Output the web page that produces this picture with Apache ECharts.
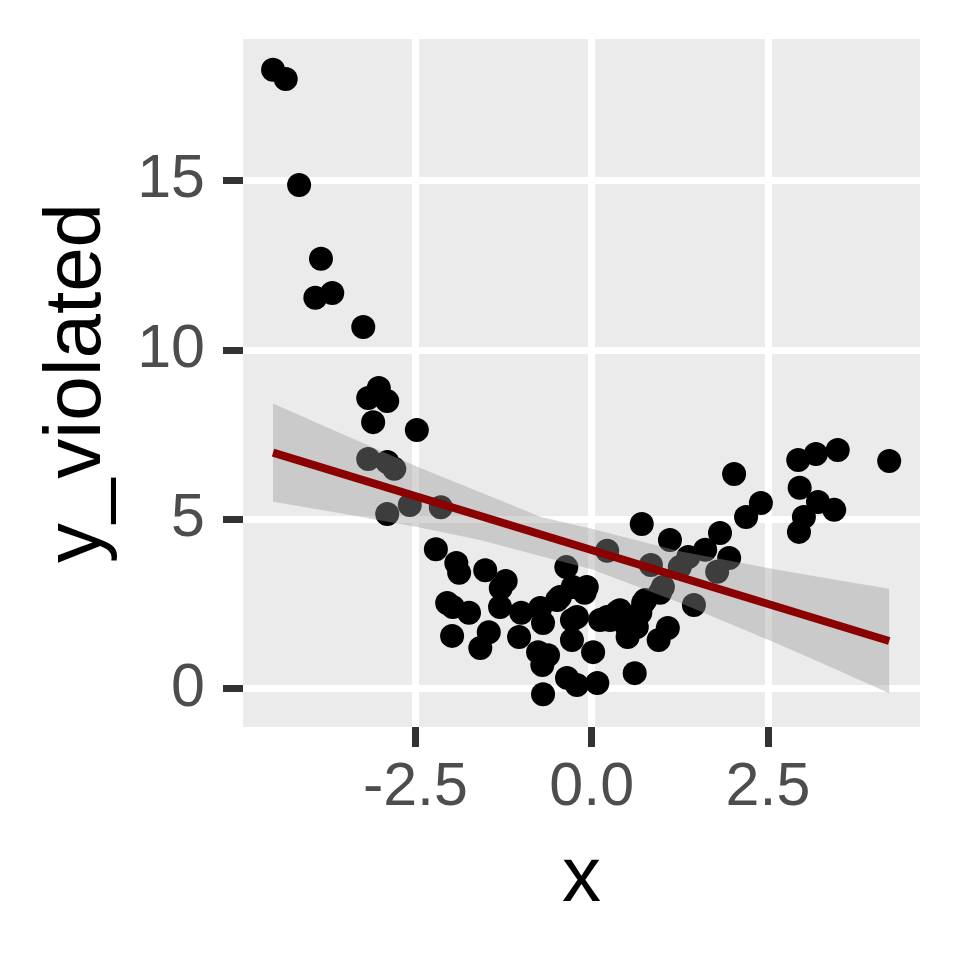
<!DOCTYPE html>
<html>
<head>
<meta charset="utf-8">
<style>
  html, body { margin: 0; padding: 0; background: #fff; }
  #chart { width: 960px; height: 960px; }
</style>
</head>
<body>
<div id="chart"></div>
<script src="https://cdn.jsdelivr.net/npm/echarts@6/dist/echarts.min.js"></script>
<script>
// 散点数据 (x, y_violated)
var xVals = [-4.52, -4.34, -4.15, -3.84, -3.92, -3.68, -3.24, -3.02, -3.17, -2.90,
             -3.10, -2.48, -3.17, -2.90, -2.80, -2.58, -2.14, -2.90, -2.21, -1.92,
             -1.88, -1.51, -1.22, -1.29, -2.05, -1.97, -1.74, -1.30, -1.00, -1.98,
             -1.46, -1.58, -1.03, -0.73, -0.69, -0.76, -0.62, -0.70, -0.36, -0.27,
             -0.07, -0.45, -0.28, -0.28, 0.02, -0.35, -0.21, 0.08, -0.69, 0.22,
             -0.12, -0.21, 0.12, 0.36, 0.50, 0.73, 0.61, 2.02, 2.93, 3.18,
             3.49, 4.22, 2.95, 3.21, 3.44, 3.01, 2.94, 2.40, 2.19, 1.82,
             1.95, 1.78, 1.61, 1.37, 1.25, 1.11, 0.71, 0.84, 1.01, 0.97,
             1.45, 0.22, 0.76, 0.69, 1.08, 0.95, 0.51, 0.26, -0.10, -0.49,
             0.40, 0.64];
var yVals = [18.27, 18.00, 14.87, 12.69, 11.54, 11.68, 10.68, 8.88, 8.58, 8.49,
             7.87, 7.64, 6.78, 6.69, 6.49, 5.42, 5.36, 5.16, 4.12, 3.71,
             3.42, 3.50, 3.18, 2.97, 2.53, 2.41, 2.24, 2.41, 2.24, 1.56,
             1.67, 1.20, 1.53, 2.38, 1.94, 1.08, 0.99, 0.70, 3.59, 3.00,
             3.00, 2.71, 2.03, 1.44, 1.08, 0.32, 0.11, 0.17, -0.16, 2.12,
             2.91, 2.12, 2.03, 2.26, 1.82, 2.53, 0.46, 6.34, 6.75, 6.93,
             7.05, 6.72, 5.93, 5.51, 5.28, 5.07, 4.63, 5.48, 5.07, 4.60,
             3.86, 3.45, 4.10, 3.89, 3.59, 4.39, 4.86, 3.65, 3.00, 2.83,
             2.47, 4.07, 2.62, 2.24, 1.79, 1.44, 1.53, 2.03, 2.83, 2.62,
             2.32, 1.82];

// 回归直线两端
var fitX = [-4.52, 4.22];
var fitY = [6.97, 1.41];

// 置信带 (上/下边界)
var bandX = [-4.52, -3.5, -2.44, -1.58, -0.73, 0.0, 1.25, 2.67, 3.5, 4.22];
var bandUpper = [8.42, 7.48, 6.52, 5.80, 5.08, 4.72, 4.06, 3.50, 3.20, 2.95];
var bandLower = [5.52, 5.16, 4.76, 4.39, 3.92, 3.53, 2.54, 1.30, 0.54, -0.13];

var xTicks = [-2.5, 0, 2.5];
var yTicks = [0, 5, 10, 15];

var chart = echarts.init(document.getElementById('chart'));

var points = xVals.map(function (x, i) { return [x, yVals[i]]; });
var fitLine = fitX.map(function (x, i) { return [x, fitY[i]]; });

var fontFam = "'Liberation Sans', Arial, sans-serif";

var option = {
    animation: false,
    backgroundColor: '#fff',
    grid: {
        left: 243,
        top: 39,
        width: 677,
        height: 688,
        show: true,
        backgroundColor: '#EBEBEB',
        borderWidth: 0
    },
    xAxis: {
        type: 'value',
        min: -4.946,
        max: 4.657,
        name: 'x',
        nameLocation: 'middle',
        nameGap: 113,
        nameTextStyle: { fontSize: 78, color: '#000', fontFamily: fontFam },
        axisLine: { show: false, onZero: false },
        axisTick: {
            show: true,
            length: 20,
            customValues: xTicks,
            lineStyle: { color: '#333333', width: 7 }
        },
        axisLabel: {
            customValues: xTicks,
            margin: 31,
            fontSize: 61,
            color: '#4D4D4D',
            fontFamily: fontFam,
            formatter: function (v) { return v.toFixed(1); }
        },
        splitLine: { show: true, lineStyle: { color: '#fff', width: 7 } }
    },
    yAxis: {
        type: 'value',
        min: -1.13,
        max: 19.18,
        name: 'y_violated',
        nameLocation: 'middle',
        nameGap: 125,
        nameTextStyle: { fontSize: 80, color: '#000', fontFamily: fontFam },
        axisLine: { show: false, onZero: false },
        axisTick: {
            show: true,
            length: 20,
            customValues: yTicks,
            lineStyle: { color: '#333333', width: 7 }
        },
        axisLabel: {
            customValues: yTicks,
            margin: 38,
            fontSize: 61,
            color: '#4D4D4D',
            fontFamily: fontFam
        },
        splitLine: { show: true, lineStyle: { color: '#fff', width: 7 } }
    },
    series: [
        {
            type: 'scatter',
            data: points,
            symbolSize: 24,
            itemStyle: { color: '#000', opacity: 1 },
            z: 2
        },
        {
            // 置信带
            type: 'custom',
            data: [0],
            z: 3,
            silent: true,
            renderItem: function (params, api) {
                var pts = [];
                for (var i = 0; i < bandX.length; i++) {
                    pts.push(api.coord([bandX[i], bandUpper[i]]));
                }
                for (var j = bandX.length - 1; j >= 0; j--) {
                    pts.push(api.coord([bandX[j], bandLower[j]]));
                }
                return {
                    type: 'polygon',
                    shape: { points: pts },
                    style: { fill: 'rgba(153,153,153,0.4)' }
                };
            }
        },
        {
            type: 'line',
            data: fitLine,
            showSymbol: false,
            lineStyle: { color: '#8B0000', width: 8 },
            z: 4
        }
    ]
};

chart.setOption(option);
</script>
</body>
</html>
